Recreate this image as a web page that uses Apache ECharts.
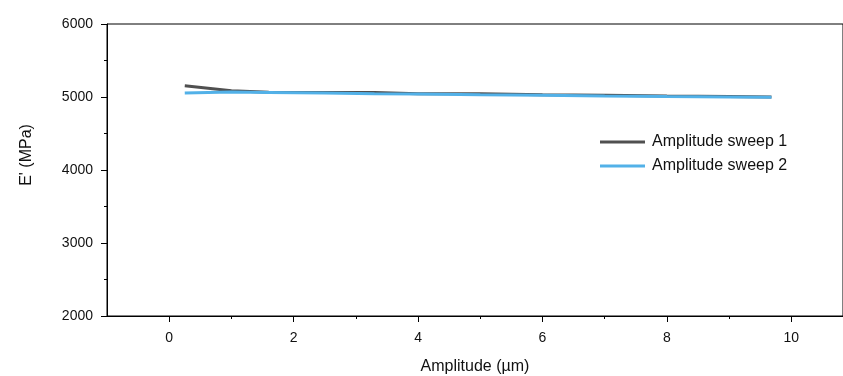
<!DOCTYPE html>
<html>
<head>
<meta charset="utf-8">
<script src="https://cdn.jsdelivr.net/npm/echarts@6/dist/echarts.min.js"></script>
<style>
  html, body { margin: 0; padding: 0; background: #fff; }
  #chart { width: 843px; height: 376px; }
</style>
</head>
<body>
<div id="chart"></div>
<script>
// amplitude (µm) for both sweeps
const amplitude = [0.25, 1.0, 1.6, 2.5, 3.3, 4.0, 5.0, 6.0, 7.0, 8.0, 9.0, 9.68]
const sweep1 = [5155, 5085, 5065, 5062, 5060, 5045, 5045, 5030, 5025, 5012, 5008, 5000]
const sweep2 = [5055, 5068, 5063, 5055, 5045, 5040, 5030, 5025, 5015, 5007, 5000, 4995]

const xMajorTicks = [0, 2, 4, 6, 8, 10]
const xMinorTicks = [1, 3, 5, 7, 9]

const font = 'Liberation Sans, Arial, sans-serif'

const chart = echarts.init(document.getElementById('chart'))

const toPairs = (xs, ys) => xs.map((x, i) => [x, ys[i]])

chart.setOption({
  backgroundColor: '#fff',
  animation: false,
  grid: {
    left: 107,
    right: 0,
    top: 24,
    bottom: 60,
    outerBoundsMode: 'none',
    show: true,
    borderColor: '#000',
    borderWidth: 1,
  },
  legend: {
    orient: 'vertical',
    left: 595,
    top: 127,
    itemWidth: 45,
    itemHeight: 3,
    itemGap: 4,
    icon: 'rect',
    textStyle: { fontFamily: font, fontSize: 16, color: '#111', lineHeight: 20, padding: [0, 0, 0, 2] },
    data: ['Amplitude sweep 1', 'Amplitude sweep 2'],
  },
  xAxis: [
    {
      type: 'value',
      min: -1,
      max: 10.83,
      name: 'Amplitude (µm)',
      nameLocation: 'middle',
      nameGap: 43,
      nameTextStyle: { fontFamily: font, fontSize: 16, color: '#111' },
      axisLine: { onZero: false, lineStyle: { color: '#000', width: 1 } },
      axisTick: {
        inside: false,
        length: 6,
        customValues: xMajorTicks,
        lineStyle: { color: '#000' },
      },
      axisLabel: {
        customValues: xMajorTicks,
        margin: 15,
        fontFamily: font,
        fontSize: 14,
        color: '#111',
      },
      splitLine: { show: false },
    },
    {
      type: 'value',
      min: -1,
      max: 10.83,
      position: 'bottom',
      axisLine: { show: false, onZero: false },
      axisTick: {
        length: 3,
        customValues: xMinorTicks,
        lineStyle: { color: '#000' },
      },
      axisLabel: { show: false },
      splitLine: { show: false },
    },
  ],
  yAxis: {
    type: 'value',
    min: 2000,
    max: 6000,
    interval: 1000,
    name: "E' (MPa)",
    nameLocation: 'middle',
    nameGap: 72,
    nameTextStyle: { fontFamily: font, fontSize: 16, color: '#111', padding: [0, 0, 0, 30] },
    axisLine: { show: true, onZero: false, lineStyle: { color: '#000', width: 1 } },
    axisTick: { show: true, length: 6, lineStyle: { color: '#000' } },
    minorTick: { show: true, splitNumber: 2, length: 3, lineStyle: { color: '#000' } },
    axisLabel: {
      margin: 14,
      fontFamily: font,
      fontSize: 14,
      color: '#111',
      formatter: (v) => String(v),
    },
    splitLine: { show: false },
  },
  series: [
    {
      name: 'Amplitude sweep 1',
      type: 'line',
      data: toPairs(amplitude, sweep1),
      showSymbol: false,
      symbol: 'none',
      color: '#505050',
      lineStyle: { width: 3, color: '#505050' },
    },
    {
      name: 'Amplitude sweep 2',
      type: 'line',
      data: toPairs(amplitude, sweep2),
      showSymbol: false,
      symbol: 'none',
      color: '#52b1e8',
      lineStyle: { width: 3, color: '#52b1e8' },
    },
  ],
})
</script>
</body>
</html>
